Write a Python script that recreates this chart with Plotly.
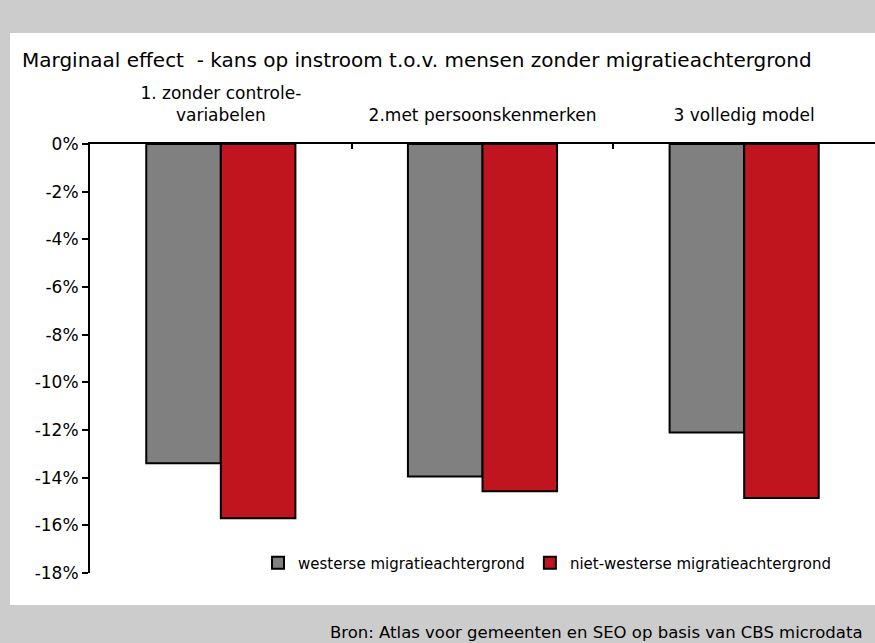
import plotly.graph_objects as go

categories = ["1. zonder controle-<br>variabelen", "2.met persoonskenmerken", "3 volledig model"]
westers = [-0.134, -0.1395, -0.121]
niet_westers = [-0.157, -0.1457, -0.1485]
series_names = ["westerse migratieachtergrond", "niet-westerse migratieachtergrond"]
ytick_vals = [0, -0.02, -0.04, -0.06, -0.08, -0.10, -0.12, -0.14, -0.16, -0.18]
ytick_text = ["0%", "-2%", "-4%", "-6%", "-8%", "-10%", "-12%", "-14%", "-16%", "-18%"]

title_text = "Marginaal effect  - kans op instroom t.o.v. mensen zonder migratieachtergrond"
source_text = "Bron: Atlas voor gemeenten en SEO op basis van CBS microdata"

FONT = "DejaVu Sans"
W, H = 875, 643
L, R, T, B = 90, 0, 144, 70
pw, ph = W - L - R, H - T - B

def px(x):
    return (x - L) / pw

def py(y):
    return (H - B - y) / ph

fig = go.Figure()
fig.add_trace(go.Bar(x=categories, y=westers, name=series_names[0],
                     marker=dict(color="#808080", line=dict(color="black", width=2))))
fig.add_trace(go.Bar(x=categories, y=niet_westers, name=series_names[1],
                     marker=dict(color="#C0141F", line=dict(color="black", width=2))))

fig.update_layout(
    width=W, height=H,
    margin=dict(l=L, r=R, t=T, b=B, pad=0),
    paper_bgcolor="#cccccc",
    plot_bgcolor="white",
    barmode="group", bargap=0.43, bargroupgap=0,
    font=dict(family=FONT, size=15, color="black"),
    showlegend=True,
    legend=dict(orientation="h", x=px(258), y=py(563), xanchor="left", yanchor="middle",
                bgcolor="rgba(0,0,0,0)", font=dict(size=15), itemwidth=30,
                traceorder="normal"),
    xaxis=dict(side="top", showline=True, linecolor="black", linewidth=2,
               ticks="inside", ticklen=5, tickwidth=2, tickcolor="black",
               tickson="boundaries", showgrid=False, zeroline=False,
               tickfont=dict(size=17), ticklabelstandoff=14),
    yaxis=dict(range=[-0.18, 0], showline=True, linecolor="black", linewidth=2,
               ticks="outside", ticklen=6, tickwidth=2, tickcolor="black",
               tickvals=ytick_vals, ticktext=ytick_text, showgrid=False,
               zeroline=False, tickfont=dict(size=17)),
    shapes=[dict(type="rect", xref="paper", yref="paper", layer="below",
                 x0=px(10), x1=px(880), y0=py(605), y1=py(33),
                 fillcolor="white", line=dict(width=0))],
    annotations=[
        dict(text=title_text, xref="paper", yref="paper", x=px(20), y=py(60),
             xanchor="left", yanchor="middle", showarrow=False,
             font=dict(size=20, family=FONT)),
        dict(text=source_text, xref="paper", yref="paper", x=px(328), y=py(621),
             xanchor="left", yanchor="top", showarrow=False,
             font=dict(size=16.5, family=FONT)),
    ],
)

fig.write_html("out.html", config={"displayModeBar": False},
               post_script="document.body.style.margin='0';")
